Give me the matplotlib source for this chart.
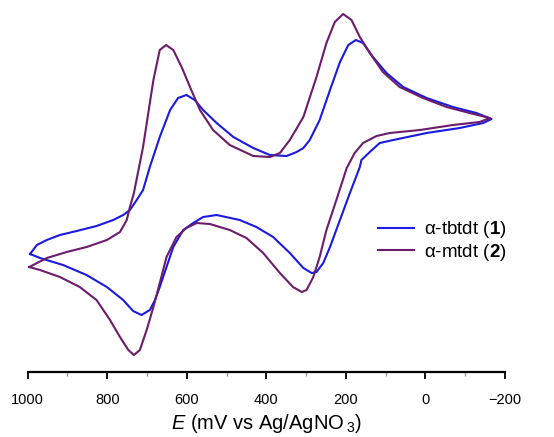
import matplotlib
matplotlib.use('Agg')
import matplotlib.pyplot as plt
from matplotlib.ticker import MultipleLocator

plt.rcParams['font.family'] = ['Liberation Sans', 'DejaVu Sans']
plt.rcParams['mathtext.fontset'] = 'custom'
plt.rcParams['mathtext.rm'] = 'Liberation Sans'
plt.rcParams['mathtext.it'] = 'Liberation Sans:italic'
plt.rcParams['mathtext.bf'] = 'Liberation Sans:bold'

# alpha-tbtdt (1): potential (mV) and current (arb. units), one closed scan
E_tbtdt = [994, 977, 952, 919, 877, 827, 785, 760, 743, 726, 710, 693, 668, 642,
           622, 601, 580, 559, 525, 483, 433, 391, 349, 324, 307, 291, 266, 240,
           215, 194, 175, 157, 132, 98, 56, -3, -69, -128, -166,
           -145, -86, -3, 81, 115, 140, 161, 165, 190, 215, 240, 257, 274, 286,
           307, 341, 383, 425, 467, 525, 559, 584, 609, 634, 651, 668, 680, 693,
           714, 735, 760, 801, 852, 911, 969, 994]
I_tbtdt = [-3.4, -2.5, -2.0, -1.5, -1.1, -0.6, 0.0, 0.5, 1.0, 2.0, 3.0, 5.3, 8.3, 11.0,
           12.2, 12.5, 12.0, 11.0, 9.7, 8.3, 7.2, 6.5, 6.4, 6.8, 7.2, 8.0, 10.0, 13.0,
           15.8, 17.5, 18.0, 17.7, 16.3, 14.7, 13.3, 12.2, 11.3, 10.7, 10.1,
           9.7, 9.2, 8.7, 8.0, 7.7, 6.8, 6.0, 5.3, 2.7, 0.0, -2.7, -4.3, -5.2, -5.3,
           -4.8, -3.3, -1.7, -0.7, 0.0, 0.5, 0.3, -0.3, -1.0, -2.7, -4.7, -6.7, -8.0, -9.0,
           -9.5, -9.1, -8.0, -6.7, -5.5, -4.5, -3.8, -3.4]

# alpha-mtdt (2)
E_mtdt = [996, 952, 902, 852, 801, 768, 751, 743, 733, 710, 684, 668, 652, 634,
          613, 592, 567, 534, 492, 433, 391, 366, 341, 307, 274, 249, 228, 207,
          186, 165, 140, 107, 65, 6, -53, -111, -162,
          -136, -69, 14, 90, 123, 157, 178, 198, 224, 249, 266, 282, 299, 311,
          333, 366, 408, 450, 492, 542, 575, 601, 626, 651, 668, 684, 701, 718,
          733, 747, 768, 793, 827, 869, 919, 969, 996]
I_mtdt = [-4.7, -3.8, -3.2, -2.7, -2.0, -1.2, 0.0, 1.3, 2.7, 7.3, 14.0, 17.0, 17.5, 17.0,
          15.3, 13.3, 11.0, 9.0, 7.5, 6.4, 6.3, 6.7, 8.0, 10.3, 14.3, 17.7, 19.8, 20.6,
          20.0, 18.3, 16.7, 14.8, 13.3, 12.2, 11.3, 10.7, 10.2,
          9.8, 9.5, 9.0, 8.7, 8.4, 7.7, 6.7, 5.2, 2.0, -1.0, -3.7, -5.7, -7.0, -7.2,
          -6.7, -5.3, -3.3, -1.8, -1.0, -0.4, -0.3, -0.8, -1.7, -3.7, -6.3, -8.7, -11.0, -13.0,
          -13.5, -13.0, -11.7, -10.0, -8.0, -6.7, -5.7, -5.0, -4.7]

labels = [r'α-tbtdt ($\mathbf{1}$)', r'α-mtdt ($\mathbf{2}$)']
colors = ['#1a1ae0', '#6c1c6c']

fig = plt.figure(figsize=(5.54, 4.37), dpi=100)
ax = fig.add_axes([0.05, 0.1487, 0.8616, 0.8513])

ax.plot(E_tbtdt, I_tbtdt, color=colors[0], lw=1.5, label=labels[0])
ax.plot(E_mtdt, I_mtdt, color=colors[1], lw=1.5, label=labels[1])

ax.set_xlim(1000, -200)
ax.set_ylim(-15.2, 22.0)

for s in ['top', 'right', 'left']:
    ax.spines[s].set_visible(False)
ax.spines['bottom'].set_linewidth(1.6)
ax.set_yticks([])

ax.xaxis.set_minor_locator(MultipleLocator(100))
ax.set_xticks([1000, 800, 600, 400, 200, 0, -200])
ax.set_xticklabels(['1000', '800', '600', '400', '200', '0', '\u2212200'])
ax.tick_params(axis='x', which='major', direction='out', length=5, width=1.3,
               labelsize=10.5, pad=10)
ax.tick_params(axis='x', which='minor', direction='out', length=3, width=1.0,
               color='#999999')

ax.set_xlabel(r'$E$ (mV vs Ag/AgNO$\,_3$)', fontsize=14.5, labelpad=4)

ax.legend(loc='center left', bbox_to_anchor=(0.734, 0.352), frameon=False,
          fontsize=13.5, handlelength=1.9, handletextpad=0.55, labelspacing=0.1,
          borderpad=0, borderaxespad=0)

fig.savefig('out.png', dpi=100)
